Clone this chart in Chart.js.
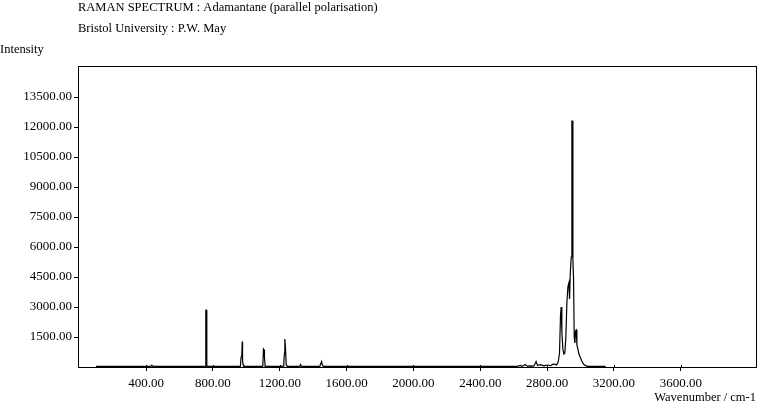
<!DOCTYPE html>
<html>
<head>
<meta charset="utf-8">
<script src="https://cdn.jsdelivr.net/npm/chart.js@4.4.1/dist/chart.umd.min.js"></script>
<style>
  html, body { margin: 0; padding: 0; background: #fff; }
  #wrap { width: 759px; height: 405px; }
</style>
</head>
<body>
<div id="wrap"><canvas id="raman" width="759" height="405"></canvas></div>
<script>
// Spectrum data (wavenumber in cm-1, intensity)
const wavenumbers = [
  100, 300, 428, 434, 440, 600, 748, 754, 756, 758, 760, 762, 764, 770,
  940, 964, 968, 972, 975, 977, 980, 984, 990, 1090, 1098, 1102, 1106, 1108, 1112, 1120,
  1210, 1220, 1224, 1228, 1230, 1234, 1238, 1244, 1310, 1320, 1324, 1328, 1336,
  1430, 1440, 1444, 1450, 1454, 1460, 1600, 2000, 2400, 2600,
  2620, 2640, 2650, 2668, 2680, 2700, 2720, 2734, 2742, 2760, 2780, 2800, 2820, 2840,
  2856, 2866, 2874, 2880, 2884, 2888, 2894, 2900, 2906, 2912, 2918, 2924, 2930, 2934,
  2938, 2944, 2948, 2952, 2954, 2958, 2962, 2966, 2970, 2974, 2978, 2984, 2990, 3000,
  3010, 3020, 3040, 3150
];
const intensities = [
  30, 30, 30, 90, 30, 30, 30, 40, 2200, 2850, 2850, 850, 30, 30,
  30, 30, 500, 520, 1270, 320, 120, 30, 30, 30, 40, 900, 850, 500, 30, 30,
  30, 40, 270, 700, 1400, 930, 120, 30, 30, 40, 120, 40, 30,
  30, 40, 150, 270, 120, 30, 30, 30, 30, 30,
  30, 80, 30, 130, 40, 60, 40, 270, 80, 120, 60, 100, 70, 150,
  100, 250, 700, 2600, 3000, 1800, 900, 650, 700, 1500, 3200, 4000, 4200, 3400,
  4600, 5500, 12300, 12300, 5400, 4400, 1500, 1200, 1800, 1850, 1100, 900, 650, 450,
  250, 120, 30, 30
];

const xTicks = [400, 800, 1200, 1600, 2000, 2400, 2800, 3200, 3600];
const yTicks = [1500, 3000, 4500, 6000, 7500, 9000, 10500, 12000, 13500];

const titleLines = [
  "RAMAN SPECTRUM : Adamantane (parallel polarisation)",
  "Bristol University : P.W. May"
];
const yAxisTitle = "Intensity";
const xAxisTitle = "Wavenumber / cm-1";

const FONT = "'Liberation Serif', 'Times New Roman', serif";

// frame box and loose text around the plot
const framePlugin = {
  id: "frame",
  afterDraw(chart) {
    const { ctx, chartArea } = chart;
    ctx.save();
    ctx.strokeStyle = "#000";
    ctx.lineWidth = 1;
    ctx.strokeRect(
      Math.round(chartArea.left) + 0.5,
      Math.round(chartArea.top) + 0.5,
      Math.round(chartArea.right - chartArea.left),
      Math.round(chartArea.bottom - chartArea.top)
    );
    // x ticks poke a little into the plot, as in the original
    const xs = chart.scales.x;
    ctx.beginPath();
    xTicks.forEach((v) => {
      const px = Math.round(xs.getPixelForValue(v)) + 0.5;
      ctx.moveTo(px, chartArea.bottom - 2);
      ctx.lineTo(px, chartArea.bottom);
    });
    ctx.stroke();

    ctx.fillStyle = "#000";
    ctx.font = "12.5px " + FONT;
    ctx.textBaseline = "middle";
    ctx.textAlign = "left";
    ctx.fillText(titleLines[0], 78, 8);
    ctx.fillText(titleLines[1], 78, 29);
    ctx.fillText(yAxisTitle, 0, 50);
    ctx.textAlign = "right";
    ctx.fillText(xAxisTitle, 756, 398);
    ctx.restore();
  },
};

const points = wavenumbers.map((w, i) => ({ x: w, y: intensities[i] }));

new Chart(document.getElementById("raman").getContext("2d"), {
  type: "scatter",
  data: {
    datasets: [
      {
        data: points,
        showLine: true,
        borderColor: "#000",
        borderWidth: 1.2,
        pointRadius: 0,
        tension: 0,
      },
    ],
  },
  options: {
    responsive: false,
    animation: false,
    layout: { padding: { top: 66, right: 3, left: 0, bottom: 0 } },
    plugins: {
      legend: { display: false },
      title: { display: false },
      tooltip: { enabled: false },
    },
    scales: {
      x: {
        type: "linear",
        min: -8,
        max: 4050,
        afterBuildTicks: (scale) => {
          scale.ticks = xTicks.map((v) => ({ value: v }));
        },
        afterFit: (scale) => {
          scale.height = 38;
        },
        ticks: {
          callback: (v) => Number(v).toFixed(2),
          color: "#000",
          font: { family: FONT, size: 13 },
          maxRotation: 0,
          autoSkip: false,
          padding: 5,
        },
        grid: { drawOnChartArea: false, tickLength: 4, color: "#000" },
        border: { display: true, color: "#000" },
      },
      y: {
        type: "linear",
        min: 0,
        max: 15050,
        afterBuildTicks: (scale) => {
          scale.ticks = yTicks.map((v) => ({ value: v }));
        },
        afterFit: (scale) => {
          scale.width = 78;
        },
        ticks: {
          callback: (v) => Number(v).toFixed(2),
          color: "#000",
          font: { family: FONT, size: 13 },
          padding: 2,
        },
        grid: { drawOnChartArea: false, tickLength: 4, color: "#000" },
        border: { display: true, color: "#000" },
      },
    },
  },
  plugins: [framePlugin],
});
</script>
</body>
</html>
